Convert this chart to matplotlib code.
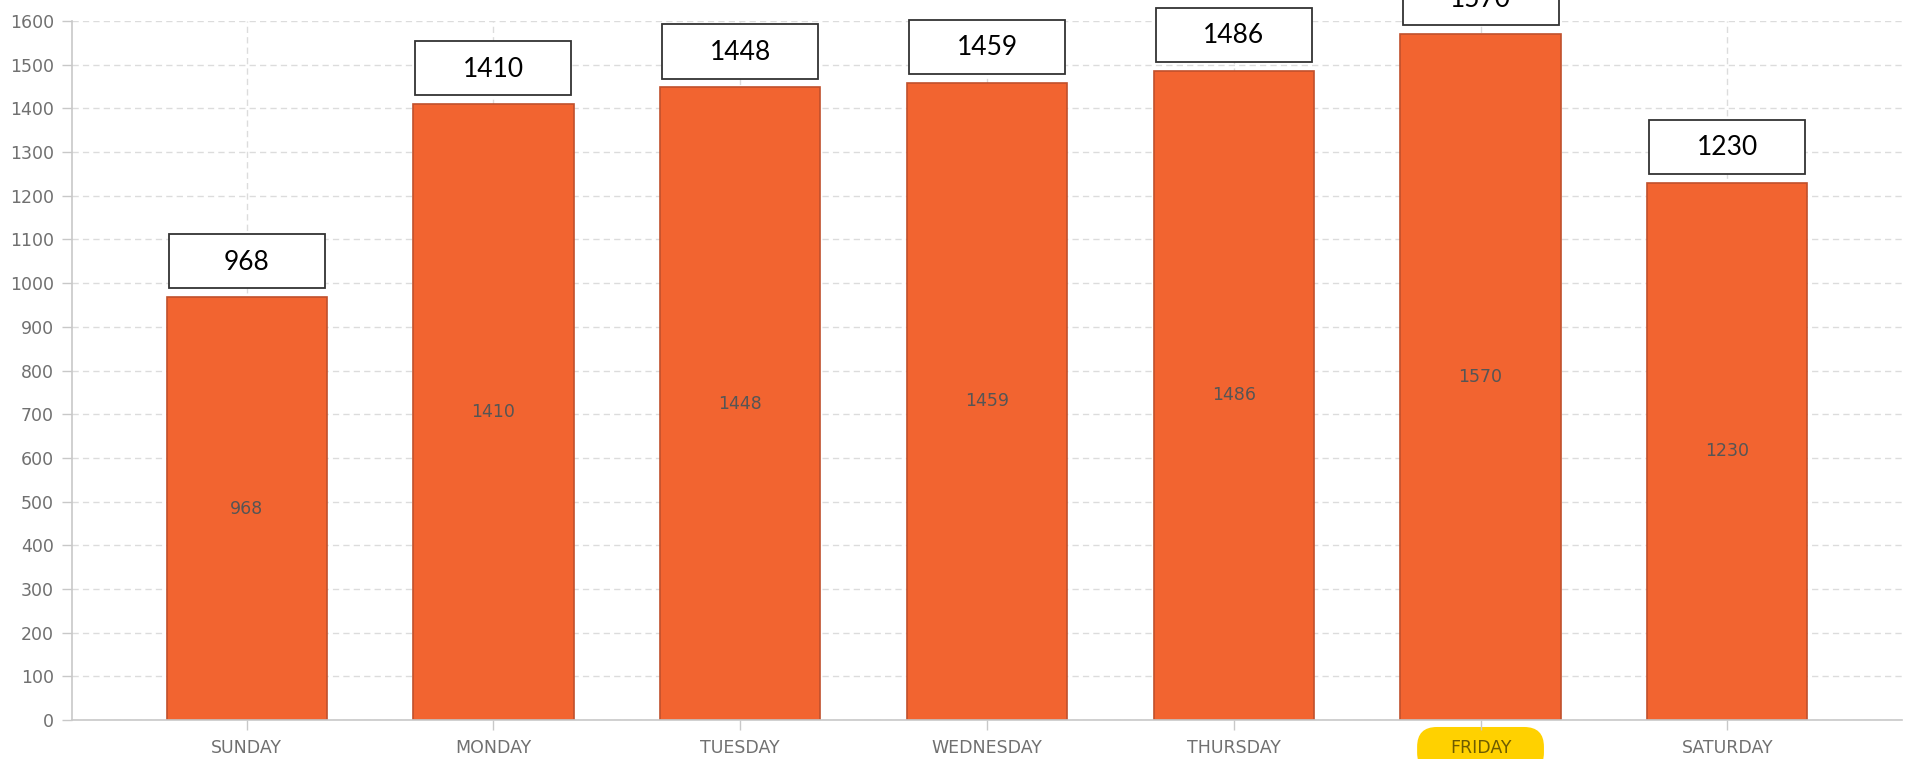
import matplotlib.pyplot as plt
from matplotlib.patches import Rectangle, FancyBboxPatch

days = ["SUNDAY", "MONDAY", "TUESDAY", "WEDNESDAY", "THURSDAY", "FRIDAY", "SATURDAY"]
counts = [968, 1410, 1448, 1459, 1486, 1570, 1230]
highlight = "FRIDAY"

bar_color = "#F26430"
edge_color = "#C0502C"
grid_color = "#DCDCDC"
axis_color = "#C8C8C8"
tick_text = "#707070"

fig = plt.figure(figsize=(19.07, 7.59), dpi=100)
ax = fig.add_axes([72 / 1907, 1 - 720 / 759, 1830 / 1907, 699 / 759])
ax.set_axisbelow(True)

x = list(range(len(days)))
ax.bar(x, counts, width=0.65, color=bar_color, edgecolor=edge_color, linewidth=1.2, zorder=2)

ax.set_xlim(-0.708, len(days) - 1 + 0.708)
ax.set_ylim(0, 1600)
ax.set_yticks(range(0, 1601, 100))
ax.set_xticks(x)
ax.set_xticklabels(days)

ax.grid(True, color=grid_color, linestyle=(0, (4.5, 3)), linewidth=1.0)
for s in ["top", "right"]:
    ax.spines[s].set_visible(False)
for s in ["left", "bottom"]:
    ax.spines[s].set_color(axis_color)
    ax.spines[s].set_linewidth(1.2)

ax.tick_params(axis="y", length=7, width=1, color=axis_color, pad=6,
               labelsize=12.5, labelcolor=tick_text)
ax.tick_params(axis="x", length=7, width=1, color=axis_color, pad=7,
               labelsize=12.5, labelcolor=tick_text)

# value inside each bar
for xi, v in zip(x, counts):
    ax.text(xi, v / 2, str(v), ha="center", va="center", fontsize=12.5,
            color="#555555", zorder=3)

# boxed value above each bar (the top one runs off the figure, as in the original)
box_w = 0.632
for xi, v in zip(x, counts):
    rect = Rectangle((xi - box_w / 2, v + 20), box_w, 124, facecolor="white",
                     edgecolor="#333333", linewidth=1.3, zorder=4, clip_on=False)
    ax.add_patch(rect)
    ax.text(xi, v + 20 + 60, str(v), ha="center", va="center", fontsize=19,
            family=["Lato", "DejaVu Sans"], color="black", zorder=5, clip_on=False)

# highlighted day label
hi = days.index(highlight)
for lbl in ax.get_xticklabels():
    if lbl.get_text() == highlight:
        lbl.set_color("#6E5C00")
pill = FancyBboxPatch((hi - 0.257, -0.075), 0.514, 0.065,
                      boxstyle="round,pad=0,rounding_size=0.08",
                      mutation_aspect=0.353, transform=ax.get_xaxis_transform(),
                      facecolor="#FFD100", edgecolor="none", zorder=0.4, clip_on=False)
ax.add_patch(pill)

fig.savefig("out.png", dpi=100)
